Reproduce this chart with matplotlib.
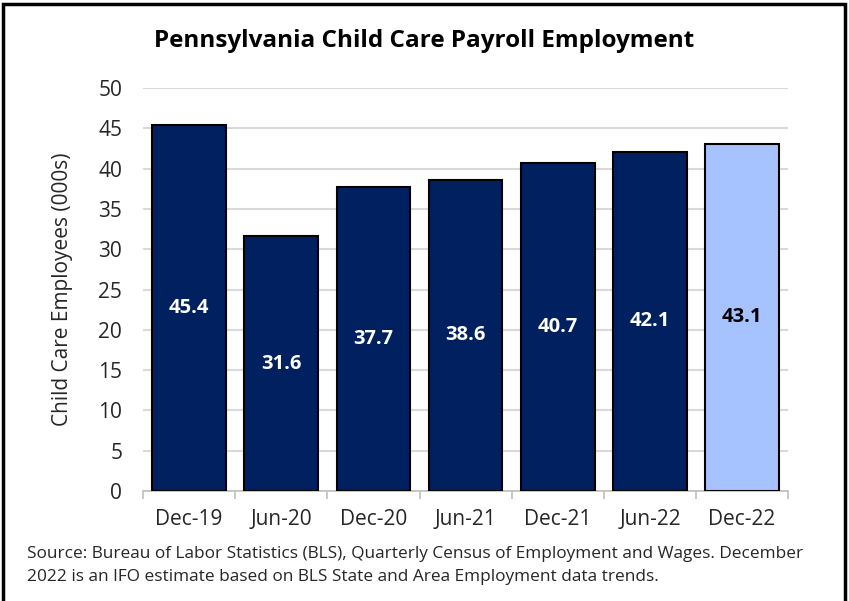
import matplotlib
matplotlib.use("Agg")
from matplotlib import pyplot as plt
from matplotlib.patches import Rectangle

# data
periods = ["Dec-19", "Jun-20", "Dec-20", "Jun-21", "Dec-21", "Jun-22", "Dec-22"]
employees = [45.4, 31.6, 37.7, 38.6, 40.7, 42.1, 43.1]
estimated = [False, False, False, False, False, False, True]
y_ticks = [0, 5, 10, 15, 20, 25, 30, 35, 40, 45, 50]

title = "Pennsylvania Child Care Payroll Employment"
y_label = "Child Care Employees (000s)"
source = ("Source: Bureau of Labor Statistics (BLS), Quarterly Census of Employment and Wages. December\n"
          "2022 is an IFO estimate based on BLS State and Area Employment data trends.")

DARK = "#002060"
LIGHT = "#A6C2FF"

plt.rcParams["font.family"] = ["Open Sans", "DejaVu Sans"]

fig = plt.figure(figsize=(8.49, 6.01), dpi=100)
ax = fig.add_axes([0.1684, 0.183, 0.760, 0.6706])

x = list(range(len(periods)))
colors = [LIGHT if e else DARK for e in estimated]
bars = ax.bar(x, employees, width=0.8, color=colors, edgecolor="black",
              linewidth=1.5, zorder=3)

for b, v, e in zip(bars, employees, estimated):
    ax.text(b.get_x() + b.get_width() / 2, v / 2, f"{v:.1f}",
            ha="center", va="center", fontsize=14.5, fontweight="bold",
            color="black" if e else "white", zorder=4)

ax.set_xlim(-0.5, len(periods) - 0.5)
ax.set_ylim(0, 50)
ax.set_yticks(y_ticks)
ax.set_xticks(x)
ax.set_xticklabels(periods)
ax.set_xticks([i - 0.5 for i in range(len(periods) + 1)], minor=True)
ax.tick_params(axis="x", which="major", length=0, labelsize=15, pad=13,
               colors="#262626")
ax.tick_params(axis="x", which="minor", length=6, color="#bfbfbf", width=1.2)
ax.tick_params(axis="y", length=0, labelsize=15, pad=15, colors="#262626")

ax.grid(axis="y", color="#d9d9d9", linewidth=1.5, zorder=0)
for s in ["top", "right", "left"]:
    ax.spines[s].set_visible(False)
ax.spines["bottom"].set_color("#bfbfbf")
ax.spines["bottom"].set_linewidth(1.2)

ax.set_ylabel(y_label, fontsize=15, color="#262626", labelpad=18)

fig.text(0.5, 0.931, title, ha="center", va="center", fontsize=17.5,
         fontweight="bold", color="black")
fig.text(0.032, 0.026, source, ha="left", va="bottom", fontsize=12.4,
         color="#262626", linespacing=1.6)

# outer frame
fig.patches.append(Rectangle((0.003, -0.01), 0.992, 1.003, transform=fig.transFigure,
                             fill=False, edgecolor="black", linewidth=2.5))

plt.savefig("out.png", dpi=100)
plt.close()
